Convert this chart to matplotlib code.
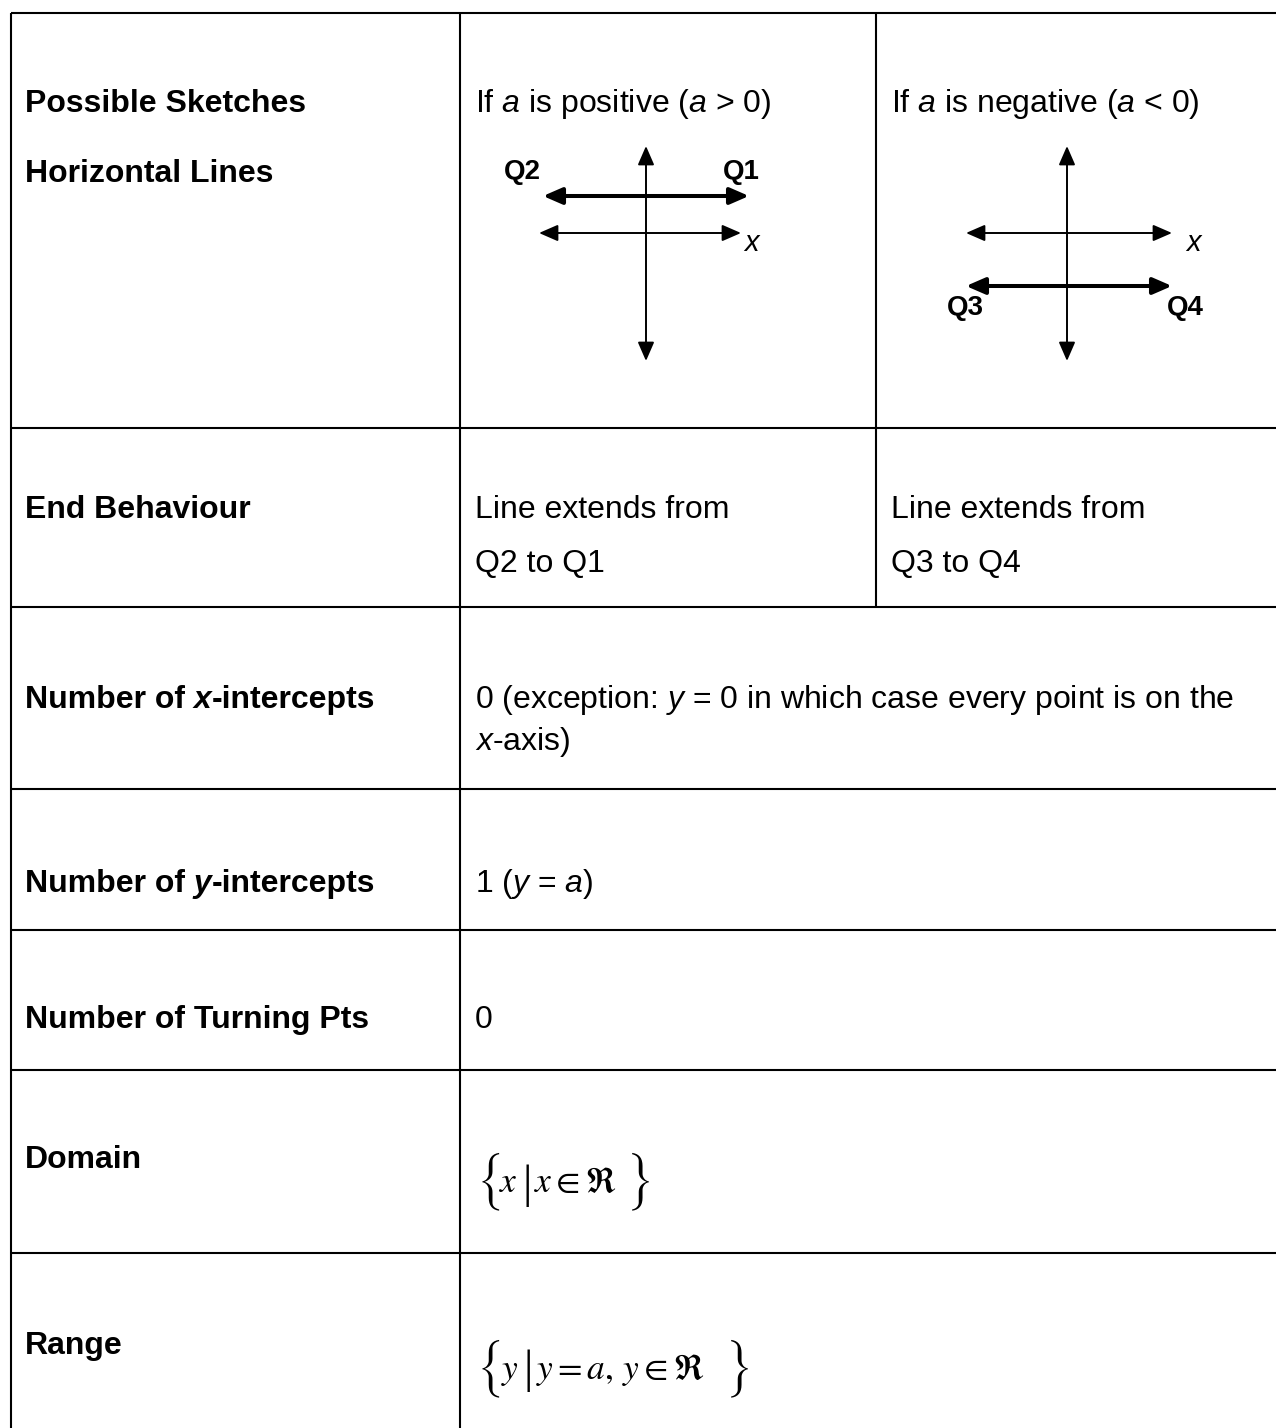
import os
import matplotlib
matplotlib.use('Agg')
import matplotlib.pyplot as plt
from matplotlib.patches import FancyArrowPatch
from matplotlib import transforms
from matplotlib.font_manager import FontProperties

plt.rcParams['font.family'] = ['Liberation Sans', 'DejaVu Sans']
plt.rcParams['mathtext.fontset'] = 'custom'
plt.rcParams['mathtext.rm'] = 'Liberation Sans'
plt.rcParams['mathtext.it'] = 'Liberation Sans:italic'
plt.rcParams['mathtext.bf'] = 'Liberation Sans:bold'
plt.rcParams['mathtext.default'] = 'it'

# ---------------- content ----------------
row_labels = [
    [[("Possible Sketches", "b")], [("Horizontal Lines", "b")]],
    [[("End Behaviour", "b")]],
    [[("Number of", "b"), (" x", "bi"), ("-intercepts", "b")]],
    [[("Number of", "b"), (" y", "bi"), ("-intercepts", "b")]],
    [[("Number of Turning Pts", "b")]],
    [[("Domain", "b")]],
    [[("Range", "b")]],
]
sketch_titles = [r"If $a$ is positive ($a$ > 0)", r"If $a$ is negative ($a$ < 0)"]
end_behaviour = [["Line extends from", "Q2 to Q1"], ["Line extends from", "Q3 to Q4"]]
x_intercepts = [r"0 (exception: $y$ = 0 in which case every point is on the", r"$x$-axis)"]
y_intercepts = [r"1 ($y$ = $a$)"]
turning_pts = ["0"]
# set notation pieces: kind 'delim' = large brace, 'bar' = tall bar, 'math' = STIX math
domain_pieces = [("{", "delim"), (r"$x$", "math"), ("|", "bar"), (r"$x\in\Re$", "math"), ("}", "delim")]
range_pieces = [("{", "delim"), (r"$y$", "math"), ("|", "bar"), (r"$y=a,\,y\in\Re$", "math"), ("}", "delim")]

# sketch data: value of a (sign) and quadrant labels for the horizontal line
a_values = [0.74, -1.06]
quadrant_labels = [("Q2", "Q1"), ("Q3", "Q4")]

# ---------------- layout ----------------
W, H = 1276, 1428
row_edges = [13, 428, 607, 789, 930, 1070, 1253]
col_edges = [11, 460, 876]
label_x = 25
col2_x = 475
col3_x = 891
label_baselines = [[112, 182], [518], [708], [892], [1028], [1168], [1354]]
FS = 23
GRID_LW = 1.5
MATH_FS = 25.5
DELIM_FS = 34
BAR_FS = 34

fig = plt.figure(figsize=(W / 100, H / 100), dpi=100)
ax = fig.add_axes([0, 0, 1, 1])
ax.set_xlim(0, W)
ax.set_ylim(H, 0)
ax.axis('off')
renderer = fig.canvas.get_renderer()

# grid
ax.hlines(row_edges, col_edges[0], W, color='black', lw=GRID_LW)
ax.vlines(col_edges[:2], row_edges[0], H, color='black', lw=GRID_LW)
ax.vlines(col_edges[2], row_edges[0], row_edges[2], color='black', lw=GRID_LW)


def rich_text(x, y, pieces, size=FS):
    t = None
    for s, style in pieces:
        kw = dict(fontsize=size,
                  fontweight='bold' if 'b' in style else 'normal',
                  fontstyle='italic' if 'i' in style else 'normal',
                  color='black')
        if t is None:
            t = ax.text(x, y, s, ha='left', va='baseline', **kw)
        else:
            t = ax.annotate(s, xy=(1, 0), xycoords=t, ha='left', va='bottom', **kw)
    return t


# first column labels
for lines, bases in zip(row_labels, label_baselines):
    for pieces, yb in zip(lines, bases):
        rich_text(label_x, yb, pieces)

# row 1: sketch titles
for title, x in zip(sketch_titles, [col2_x, col3_x]):
    ax.text(x, 112, title, fontsize=FS, ha='left', va='baseline')

# row 2: end behaviour
for lines, x in zip(end_behaviour, [col2_x, col3_x]):
    for s, yb in zip(lines, [518, 572]):
        ax.text(x, yb, s, fontsize=FS, ha='left', va='baseline')

# row 3
for s, yb in zip(x_intercepts, [708, 750]):
    ax.text(col2_x, yb, s, fontsize=FS, ha='left', va='baseline')
# row 4
ax.text(col2_x, 892, y_intercepts[0], fontsize=FS, ha='left', va='baseline')
# row 5
ax.text(col2_x, 1028, turning_pts[0], fontsize=FS, ha='left', va='baseline')

# rows 6, 7 : set notation with large delimiters
size_font = os.path.join(matplotlib.get_data_path(), 'fonts', 'ttf', 'STIXSizOneSymReg.ttf')
if os.path.exists(size_font):
    delim_fp = FontProperties(fname=size_font, size=DELIM_FS)
else:
    delim_fp = FontProperties(family='STIXGeneral', size=DELIM_FS)
bar_fp = FontProperties(family=['Liberation Serif', 'DejaVu Serif'], size=BAR_FS)


def set_notation(x0, baseline, pieces, gaps, delim_dy, bar_dy):
    x = x0
    for (s, kind), gap in zip(pieces, gaps):
        x += gap
        if kind == 'delim':
            t = ax.text(x, baseline + delim_dy, s, fontproperties=delim_fp,
                        ha='left', va='baseline')
        elif kind == 'bar':
            t = ax.text(x, baseline + bar_dy, s, fontproperties=bar_fp,
                        ha='left', va='baseline')
        else:
            t = ax.text(x, baseline, s, fontsize=MATH_FS, math_fontfamily='stix',
                        ha='left', va='baseline')
        x += t.get_window_extent(renderer).width


set_notation(477, 1192, domain_pieces, [0, -5, 4, 3, 10], 10, 5)
set_notation(477, 1379, range_pieces, [0, -3, 4, 3, 22], 10, 3)

# ---------------- sketches ----------------
UNIT = 50.0
AXIS_Y = 233
sketch_cx = [646, 1067]
yaxis_span = (1.74, -2.56)
xaxis_span = [(-2.14, 1.9), (-2.02, 2.1)]
line_span = [(-2.06, 2.06), (-2.02, 2.1)]
q_pos = [((-2.48, 1.22), (1.9, 1.22)), ((-2.04, -1.5), (2.36, -1.5))]
xlab_pos = [(2.1, -0.2), (2.52, -0.2)]
ARROW = "<|-|>,head_length=11.5,head_width=5"

for i, (cx, a) in enumerate(zip(sketch_cx, a_values)):
    tr = transforms.Affine2D().scale(UNIT, -UNIT).translate(cx, AXIS_Y) + ax.transData
    ax.add_patch(FancyArrowPatch((0, yaxis_span[1]), (0, yaxis_span[0]), arrowstyle=ARROW,
                                 mutation_scale=1, lw=1.4, color='black', transform=tr,
                                 shrinkA=0, shrinkB=0))
    ax.add_patch(FancyArrowPatch((xaxis_span[i][0], 0), (xaxis_span[i][1], 0), arrowstyle=ARROW,
                                 mutation_scale=1, lw=1.4, color='black', transform=tr,
                                 shrinkA=0, shrinkB=0))
    ax.add_patch(FancyArrowPatch((line_span[i][0], a), (line_span[i][1], a), arrowstyle=ARROW,
                                 mutation_scale=1, lw=2.9, color='black', transform=tr,
                                 shrinkA=0, shrinkB=0))
    for lab, (u, v) in zip(quadrant_labels[i], q_pos[i]):
        ax.text(u, v, lab, transform=tr, fontsize=20, fontweight='bold',
                ha='center', va='center')
    ax.text(xlab_pos[i][0], xlab_pos[i][1], "x", transform=tr, fontsize=21,
            fontstyle='italic', ha='center', va='center')

fig.savefig("out.png", dpi=100)
